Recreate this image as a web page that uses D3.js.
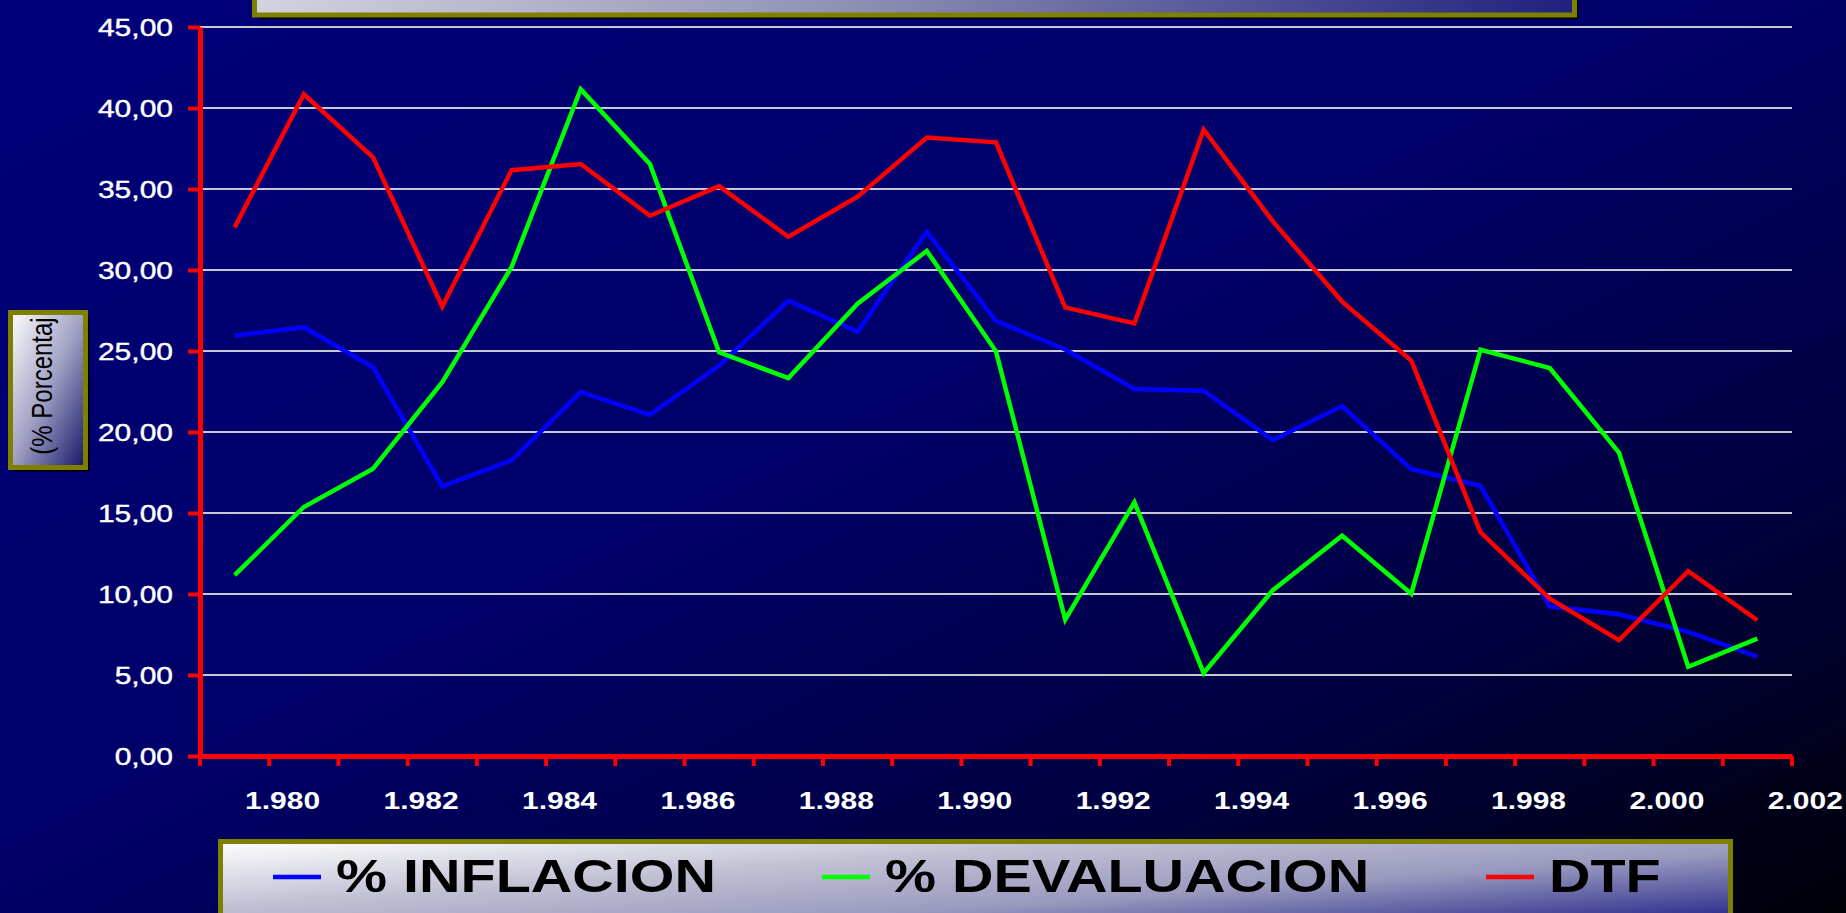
<!DOCTYPE html>
<html>
<head>
<meta charset="utf-8">
<script src="https://cdn.jsdelivr.net/npm/d3@7"></script>
<style>
  html, body { margin: 0; padding: 0; background: #000040; overflow: hidden; }
  text { font-family: "Liberation Sans", Arial, sans-serif; }
</style>
</head>
<body>
<div id="chart"></div>
<script>
// data
const years = [1980, 1981, 1982, 1983, 1984, 1985, 1986, 1987, 1988, 1989, 1990, 1991,
               1992, 1993, 1994, 1995, 1996, 1997, 1998, 1999, 2000, 2001, 2002];
const inflacion = [25.95, 26.47, 24.00, 16.64, 18.25, 22.46, 21.06, 24.10, 28.11, 26.20, 32.36, 26.86,
                   25.09, 22.66, 22.55, 19.50, 21.60, 17.70, 16.68, 9.24, 8.75, 7.66, 6.13];
const devaluacion = [11.16, 15.37, 17.73, 23.07, 30.17, 41.16, 36.54, 24.92, 23.33, 27.92, 31.18, 24.98,
                     8.42, 15.66, 5.12, 10.24, 13.60, 10.02, 25.08, 23.95, 18.73, 5.51, 7.25];
const dtf = [32.63, 40.85, 36.95, 27.74, 36.16, 36.54, 33.35, 35.18, 32.05, 34.53, 38.18, 37.88,
             27.69, 26.70, 38.66, 33.00, 28.05, 24.41, 13.81, 9.71, 7.15, 11.41, 8.38];
const yTicks = [0, 5, 10, 15, 20, 25, 30, 35, 40, 45];
const xTickYears = [1980, 1982, 1984, 1986, 1988, 1990, 1992, 1994, 1996, 1998, 2000, 2002];
const seriesNames = ['% INFLACION', '% DEVALUACION', 'DTF'];
const seriesColors = ['#0000ff', '#00ff00', '#ff0000'];
const yTitle = '(% Porcentaj';

const width = 1846, height = 913;
const plot = { left: 200, right: 1792, top: 27, bottom: 756 };
const stretch = 'scale(1.25,1)';   // the source picture is stretched sideways

const es = d3.formatLocale({ decimal: ',', thousands: '.', grouping: [3], currency: ['$', ''] });
const yFmt = es.format(',.2f');
const xFmt = es.format(',d');

const svg = d3.select('#chart').append('svg')
  .attr('width', width)
  .attr('height', height);

const defs = svg.append('defs');

function gradient(id, x2, y2, stops) {
  const g = defs.append('linearGradient')
    .attr('id', id)
    .attr('x1', 0).attr('y1', 0)
    .attr('x2', x2).attr('y2', y2);
  stops.forEach(([o, c]) => g.append('stop').attr('offset', o).attr('stop-color', c));
}

gradient('bg', 1, 1, [[0, '#00007a'], [0.45, '#00006a'], [0.75, '#000040'], [1, '#000008']]);
gradient('titleFill', 1, 0, [[0, '#d2d2e0'], [0.45, '#9090b4'], [1, '#20207e']]);
gradient('legendFill', 1, 1, [[0, '#ffffff'], [0.3, '#c0c0d4'], [0.55, '#9a9abf'], [0.85, '#2a2a8c'], [1, '#1a1a80']]);
gradient('axisTitleFill', 1, 1, [[0, '#ffffff'], [0.5, '#a0a0c4'], [1, '#14146a']]);

// background
svg.append('rect')
  .attr('width', width)
  .attr('height', height)
  .attr('fill', 'url(#bg)');

function framedBox(x, y, w, h, fill) {
  svg.append('rect')
    .attr('x', x + 4).attr('y', y + 4)
    .attr('width', w).attr('height', h)
    .attr('fill', '#000000');
  svg.append('rect')
    .attr('x', x).attr('y', y)
    .attr('width', w).attr('height', h)
    .attr('fill', fill)
    .attr('stroke', '#808000')
    .attr('stroke-width', 5);
}

// title box, cut off by the top edge
framedBox(254.5, -60, 1320, 75, 'url(#titleFill)');

// scales
const x = d3.scaleBand()
  .domain(years)
  .range([plot.left, plot.right])
  .padding(0);

const y = d3.scaleLinear()
  .domain([0, 45])
  .range([plot.bottom, plot.top]);

const cx = d => x(d) + x.bandwidth() / 2;

// gridlines
svg.append('g')
  .selectAll('line')
  .data(yTicks.filter(d => d > 0))
  .join('line')
  .attr('x1', plot.left)
  .attr('x2', plot.right)
  .attr('y1', d => y(d))
  .attr('y2', d => y(d))
  .attr('stroke', '#c8c8d0')
  .attr('stroke-width', 2);

// series
const series = [inflacion, devaluacion, dtf];
const line = d3.line()
  .x((d, i) => cx(years[i]))
  .y(d => y(d));

svg.append('g')
  .selectAll('path')
  .data(series)
  .join('path')
  .attr('d', line)
  .attr('fill', 'none')
  .attr('stroke', (d, i) => seriesColors[i])
  .attr('stroke-width', 4.5)
  .attr('stroke-linejoin', 'miter');

// y axis
const yAxis = svg.append('g')
  .attr('transform', `translate(${plot.left},0)`)
  .call(d3.axisLeft(y).tickValues(yTicks).tickFormat(yFmt).tickSize(12).tickSizeOuter(0));

yAxis.select('.domain').attr('stroke', '#ff0000').attr('stroke-width', 5);
yAxis.selectAll('.tick line').attr('stroke', '#ff0000').attr('stroke-width', 4);
yAxis.selectAll('.tick text')
  .attr('x', 0)
  .attr('dy', '0.36em')
  .attr('transform', `translate(-27,0) ${stretch}`)
  .attr('fill', '#ffffff')
  .attr('stroke', '#ffffff')
  .attr('stroke-width', 0.4)
  .style('font-size', '24px');

// x axis: labels every other year, ticks on category boundaries
const xAxis = svg.append('g')
  .attr('transform', `translate(0,${plot.bottom})`)
  .call(d3.axisBottom(x).tickValues(xTickYears).tickFormat(xFmt).tickSize(0).tickSizeOuter(0));

xAxis.select('.domain').attr('stroke', '#ff0000').attr('stroke-width', 5);
xAxis.selectAll('.tick text')
  .attr('y', 0)
  .attr('dy', 0)
  .attr('transform', `translate(48,53) ${stretch}`)
  .attr('fill', '#ffffff')
  .style('font-size', '24px')
  .style('font-weight', 'bold');

xAxis.append('g')
  .selectAll('line')
  .data(years.map(d => x(d)).concat(x.range()[1]))
  .join('line')
  .attr('x1', d => d)
  .attr('x2', d => d)
  .attr('y1', 0)
  .attr('y2', 10)
  .attr('stroke', '#ff0000')
  .attr('stroke-width', 4);

// y axis title box
framedBox(10.5, 312.5, 75, 155, 'url(#axisTitleFill)');
svg.append('text')
  .attr('transform', 'translate(52,386) rotate(-90) scale(1,1.25)')
  .attr('text-anchor', 'middle')
  .attr('fill', '#000000')
  .style('font-size', '24px')
  .text(yTitle);

// legend
framedBox(220.5, 841.5, 1510, 110, 'url(#legendFill)');
const legendX = [273, 822, 1486];
const legend = svg.append('g')
  .selectAll('g')
  .data(seriesNames)
  .join('g')
  .attr('transform', (d, i) => `translate(${legendX[i]},0)`);

legend.append('line')
  .attr('x1', 0)
  .attr('x2', 48)
  .attr('y1', 877)
  .attr('y2', 877)
  .attr('stroke', (d, i) => seriesColors[i])
  .attr('stroke-width', 4.5);

legend.append('text')
  .attr('transform', `translate(63,892) ${stretch}`)
  .attr('fill', '#000000')
  .style('font-size', '46px')
  .style('font-weight', 'bold')
  .text(d => d);
</script>
</body>
</html>
